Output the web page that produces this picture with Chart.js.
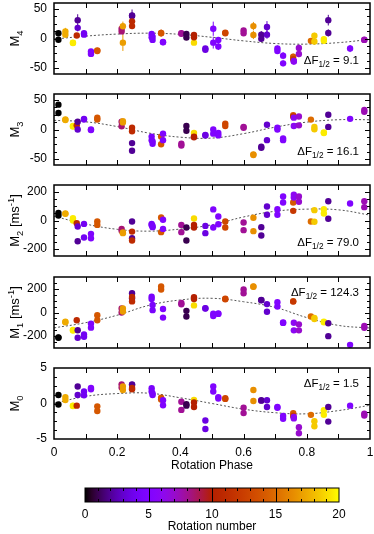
<!DOCTYPE html>
<html>
<head>
<meta charset="utf-8">
<script src="https://cdn.jsdelivr.net/npm/chart.js@4.4.1/dist/chart.umd.min.js"></script>
<style>
  html, body { margin: 0; padding: 0; background: #fff; }
  #wrap { position: relative; width: 374px; height: 534px; overflow: hidden; }
  #wrap canvas { position: absolute; left: 0; }
</style>
</head>
<body>
<div id="wrap"></div>
<script>
// Magnetic moments vs rotation phase, coloured by rotation number

const phase = [
  0.014, 0.014, 0.036, 0.036, 0.060, 0.060, 0.072, 0.075, 0.075, 0.095, 0.095, 0.117, 0.117, 0.137, 0.137,
  0.214, 0.214, 0.218, 0.218, 0.247, 0.247, 0.247, 0.247, 0.309, 0.309, 0.312, 0.312, 0.339, 0.339, 0.345, 0.345,
  0.403, 0.403, 0.419, 0.419, 0.443, 0.443, 0.443, 0.479, 0.479, 0.504, 0.504, 0.520, 0.520, 0.542, 0.542,
  0.600, 0.600, 0.631, 0.631, 0.656, 0.656, 0.674, 0.674, 0.707, 0.707, 0.725, 0.725, 0.757, 0.757, 0.759, 0.759,
  0.775, 0.775, 0.813, 0.824, 0.824, 0.854, 0.854, 0.868, 0.868, 0.937, 0.982, 0.982
];
const rotation = [
  0, 0, 17.5, 17.5, 19.5, 19.5, 11, 2, 3, 4, 4, 5, 5, 14, 14,
  8.5, 8.5, 17, 17, 2, 2, 11, 11, 4.5, 4.5, 4.5, 4.5, 14, 14, 5, 5,
  8, 8, 1, 1, 19, 10, 10, 3.5, 3.5, 5, 5, 5, 5, 13, 13,
  8, 8, 16.5, 16.5, 2, 2, 3, 3, 5, 5, 5, 5, 14, 12, 6, 6,
  7, 7, 15, 18.5, 18.5, 19.5, 19.5, 2, 2, 5, 7.5, 7.5
];
const m4 = [
  9, -2, 12, 6.5, -7, -7.5, 5, 31, 18, 9, 6.5, -22, -26, -20, -21,
  16.5, 12, 20.6, -7, 39, 38, 29, 21, 7.6, 2, -2.4, 3, 9.4, 9, -6, -6.5,
  9, 8, 7.6, 1.8, -7, 6, 2, -17, -19, 16.5, -7, -2.4, -13.5, 10, 9,
  13.5, 9, 21, 6, 6.5, -0.6, 19.4, 6.5, -17, -21, -29, -42, -30.6, -35, -39, -38,
  -16, -26, -4, 4.7, -5, -1, -4, 31, 9.4, -17, -2.4, -2
];
const m4Err = [
  4, 3, 6, 5, 3, 3, 3, 10, 6, 4, 4, 3, 3, 3, 3,
  5, 4, 8, 14, 10, 6, 5, 5, 5, 4, 4, 4, 6, 5, 4, 4,
  5, 4, 5, 4, 4, 5, 5, 4, 4, 12, 10, 5, 6, 4, 3,
  4, 4, 7, 7, 6, 5, 10, 7, 5, 4, 6, 5, 5, 5, 5, 4,
  6, 6, 4, 5, 5, 5, 5, 9, 6, 6, 4, 3
];
const m3 = [
  42, 28, 17, 16, 6, 5, 7, 13, 0, 18, 17, 0, -1, 20, 17,
  13, 5.5, 14, 12, -23, -36, 3, -3, -12, -18, -24, -20, -12, -25, -7, -18,
  -24, -27, 6, -2, -6, -12, -13, -9, -10, 0, -7, -6, -10, 10, 6,
  4.4, 3, -42, -43, -29, -31, 8, -18, 3, 0, -15, -18, 24, 22, 20, 6,
  22, 7, 16.7, 4.4, 0.5, -5, -6, 25, 4.4, 18, 33, 30
];
const m2 = [
  54, 35, 50, 47, 16, 0, -19, -146, -42, -24, -120, -94, -125, -7, -31,
  -59, -73, -85, -89, -7, -125, -78, -141, -24, -31, -47, -38, 21, -82, 5, -59,
  -31, -82, -49, -141, 14, -31, -49, -38, -89, 78, -49, 28, -26, -7, -49,
  -14, -68, 19, -75, -47, -106, 99, 40, 80, 40, 169, 127, 127, 68, 181, 162,
  169, 132, -7, 73, -9, 80, 49, 136, 12, 120, 136, 94
];
const m1 = [
  -214, -210, -78, -82, -148, -152, -66, -150, -214, -186, -205, -94, -128, -23, -66,
  34, 0, 34, 9, 163, 120, 131, 94, 134, 114, 63, 20, 220, 194, 29, -43,
  80, 69, 14, -34, 60, 129, 114, 34, 36, -11, -29, -8, -12, 116, 112,
  194, 163, 220, 218, 106, 104, 71, 6, 86, 51, -84, -88, 96, 92, -86, -151,
  -100, -151, -34, -45, -55, -78, -82, -91, -200, -274, -114, -129
];
const m0 = [
  1.2, -0.15, 0.9, 0.5, -0.3, -0.35, -0.3, 2.4, 1.2, 1.7, 1.15, 2.2, 2.0, -0.4, -1.05,
  2.7, 2.25, 2.4, 1.9, 2.7, 2.6, 2.2, 2.0, 2.15, 1.7, 1.2, 1.4, 0.8, 0.55, 0.45, -0.25,
  0.25, -0.9, -0.1, -0.3, 0.5, 0.15, -0.5, -2.4, -3.6, 2.4, 1.7, 0.9, 0.7, 0.75, 0.65,
  -0.6, -1.35, 1.9, 0.35, 0.45, 0.4, 0.45, -0.5, -0.5, -0.6, -1.75, -2.15, -1.35, -1.75, -1.9, -2.1,
  -3.35, -4.2, -1.6, -2.5, -3.2, -0.95, -1.6, -0.5, -2.55, -0.3, -1.45, -1.7
];

// dashed fits
const fitPhase = [0, 0.1, 0.2, 0.3, 0.4, 0.5, 0.6, 0.7, 0.8, 0.9, 1];
const m4Fit = [-1, 4, 7.5, 9, 7, 2, -4, -8.5, -9.5, -7, -1.5];
const m3Fit = [15.5, 13, 5, -6, -13, -14.5, -7, 4, 12.5, 16.5, 16.5];
const m2Fit = [30, -25, -62, -75, -60, -30, 25, 65, 80, 75, 38];
const m1Fit = [-130, -86, -23, 60, 106, 120, 91, 43, -43, -109, -131];
const m0Fit = [0, 1.0, 1.4, 1.45, 0.8, 0, -0.8, -1.3, -1.45, -1.0, -0.25];

const phaseTicks = [0, 0.1, 0.2, 0.3, 0.4, 0.5, 0.6, 0.7, 0.8, 0.9, 1];
const rotationTicks = [0, 5, 10, 15, 20];
const rotationMax = 20;

const FONT = '"Liberation Sans", Arial, Helvetica, sans-serif';
Chart.defaults.font.family = FONT;
Chart.defaults.color = '#000';

// gnuplot rgbformulae 7,5,15
function palette(t) {
  t = Math.max(0, Math.min(1, t));
  const r = Math.sqrt(t), g = t * t * t, b = Math.max(0, Math.sin(2 * Math.PI * t));
  return `rgb(${Math.round(r * 255)},${Math.round(g * 255)},${Math.round(b * 255)})`;
}

function drawRich(ctx, parts, x, y, size, align) {
  const fontFor = k => `${k ? size * 0.72 : size}px ${FONT}`;
  const widths = parts.map(([t, k]) => { ctx.font = fontFor(k); return ctx.measureText(t).width; });
  const total = widths.reduce((a, b) => a + b, 0);
  let cx = align === 'right' ? x - total : align === 'center' ? x - total / 2 : x;
  ctx.textAlign = 'left';
  ctx.textBaseline = 'alphabetic';
  parts.forEach(([t, k], i) => {
    ctx.font = fontFor(k);
    const dy = k === 'sub' ? size * 0.28 : k === 'sup' ? -size * 0.42 : 0;
    ctx.fillText(t, cx, y + dy);
    cx += widths[i];
  });
}

const panels = [
  {values: m4, err: m4Err, fit: m4Fit, min: -60, max: 60, major: 50, minor: 12.5, top: 3,
   title: [['M', ''], ['4', 'sub']], dF: '9.1', dFhigh: false},
  {values: m3, fit: m3Fit, min: -60, max: 60, major: 50, minor: 12.5, top: 94,
   title: [['M', ''], ['3', 'sub']], dF: '16.1', dFhigh: false},
  {values: m2, fit: m2Fit, min: -250, max: 250, major: 200, minor: 50, top: 185,
   title: [['M', ''], ['2', 'sub'], [' [ms', ''], ['-1', 'sup'], [']', '']], dF: '79.0', dFhigh: false},
  {values: m1, fit: m1Fit, min: -300, max: 300, major: 200, minor: 50, top: 277,
   title: [['M', ''], ['1', 'sub'], [' [ms', ''], ['-1', 'sup'], [']', '']], dF: '124.3', dFhigh: true},
  {values: m0, fit: m0Fit, min: -5, max: 5, major: 5, minor: 1.25, top: 368,
   title: [['M', ''], ['0', 'sub']], dF: '1.5', dFhigh: true}
];
const PANEL_H = 71;
const PAD = 8;

const errorBars = {
  id: 'errorBars',
  beforeDatasetsDraw(chart) {
    const err = chart.options.plugins.errorBars.err;
    if (!err) return;
    const {ctx, scales: {x, y}} = chart;
    const ds = chart.data.datasets[0];
    ctx.save();
    ctx.lineWidth = 1;
    ds.data.forEach((p, i) => {
      const px = x.getPixelForValue(p.x);
      ctx.strokeStyle = ds.backgroundColor[i];
      ctx.beginPath();
      ctx.moveTo(px, y.getPixelForValue(p.y - err[i]));
      ctx.lineTo(px, y.getPixelForValue(p.y + err[i]));
      ctx.stroke();
    });
    ctx.restore();
  }
};

const frame = {
  id: 'frame',
  afterDatasetsDraw(chart) {
    const o = chart.options.plugins.frame;
    const {ctx, chartArea: a, scales: {x, y}} = chart;
    ctx.save();
    ctx.strokeStyle = '#000';
    ctx.lineWidth = 1;
    ctx.beginPath();
    y.ticks.forEach(t => {
      if (t.value <= o.min || t.value >= o.max) return;
      const py = Math.round(y.getPixelForValue(t.value)) + 0.5;
      const len = Math.abs(t.value % o.major) < 1e-9 ? 5 : 3;
      ctx.moveTo(a.left, py); ctx.lineTo(a.left + len, py);
      ctx.moveTo(a.right, py); ctx.lineTo(a.right - len, py);
    });
    phaseTicks.forEach(v => {
      if (v <= 0 || v >= 1) return;
      const px = Math.round(x.getPixelForValue(v)) + 0.5;
      ctx.moveTo(px, a.top); ctx.lineTo(px, a.top + 5);
      ctx.moveTo(px, a.bottom); ctx.lineTo(px, a.bottom - 5);
    });
    ctx.stroke();
    ctx.lineWidth = 1.5;
    ctx.strokeRect(a.left, a.top, a.right - a.left, a.bottom - a.top);
    ctx.restore();
  },
  afterDraw(chart) {
    const o = chart.options.plugins.frame;
    const {ctx, chartArea: a} = chart;
    ctx.save();
    ctx.fillStyle = '#000';
    ctx.translate(19, (a.top + a.bottom) / 2);
    ctx.rotate(-Math.PI / 2);
    drawRich(ctx, o.title, 0, 0, 13, 'center');
    ctx.restore();
    ctx.save();
    ctx.fillStyle = '#000';
    drawRich(ctx, [['\u0394F', ''], ['1/2', 'sub'], [' = ' + o.dF, '']],
      a.right - 11, a.top + (o.dFhigh ? 19 : 61), 11.5, 'right');
    if (o.xTitle) {
      ctx.font = `12px ${FONT}`;
      ctx.textAlign = 'center';
      ctx.textBaseline = 'middle';
      ctx.fillText(o.xTitle, (a.left + a.right) / 2, a.bottom + 27);
    }
    ctx.restore();
  }
};

const wrap = document.getElementById('wrap');

function makeCanvas(top, height) {
  const c = document.createElement('canvas');
  c.width = 374; c.height = height;
  c.style.top = top + 'px';
  c.style.width = '374px'; c.style.height = height + 'px';
  wrap.appendChild(c);
  return c;
}

panels.forEach((p, idx) => {
  const last = idx === panels.length - 1;
  const xH = last ? 37 : 0;
  const canvas = makeCanvas(p.top - PAD, PAD + PANEL_H + (last ? xH : PAD));
  const pts = phase.map((ph, i) => ({x: ph, y: p.values[i]}));
  const fitPts = fitPhase.map((ph, i) => ({x: ph, y: p.fit[i]}));

  new Chart(canvas, {
    type: 'scatter',
    data: {
      datasets: [
        {data: pts, backgroundColor: rotation.map(r => palette(r / rotationMax)),
         pointRadius: 3.2, pointHoverRadius: 3.2, borderWidth: 0, order: 0},
        {type: 'line', data: fitPts, borderColor: '#555', borderWidth: 1, borderDash: [2, 2],
         pointRadius: 0, tension: 0.4, fill: false, order: 1}
      ]
    },
    options: {
      responsive: false, animation: false, events: [],
      layout: {padding: {top: PAD, bottom: last ? 0 : PAD, left: 0, right: 4}},
      scales: {
        x: {
          type: 'linear', min: 0, max: 1, display: last,
          grid: {display: false, drawTicks: false}, border: {display: false},
          afterBuildTicks: s => { s.ticks = phaseTicks.map(v => ({value: v})); },
          ticks: {
            autoSkip: false, maxRotation: 0, padding: 6, font: {size: 12},
            callback: v => Math.round(v * 10) % 2 === 0 ? (v === 0 || v === 1 ? String(v) : v.toFixed(1)) : ''
          },
          afterFit: s => { s.height = xH; s.paddingLeft = 0; s.paddingRight = 0; }
        },
        y: {
          min: p.min, max: p.max,
          grid: {display: false, drawTicks: false}, border: {display: false},
          ticks: {
            stepSize: p.minor, includeBounds: false, autoSkip: false, padding: 7, font: {size: 12},
            callback: v => Math.abs(v % p.major) < 1e-9 ? String(v) : ''
          },
          afterFit: s => { s.width = 54; s.paddingTop = 0; s.paddingBottom = 0; }
        }
      },
      plugins: {
        legend: {display: false}, tooltip: {enabled: false},
        errorBars: {err: p.err},
        frame: {min: p.min, max: p.max, major: p.major, title: p.title, dF: p.dF, dFhigh: p.dFhigh,
                xTitle: last ? 'Rotation Phase' : null}
      }
    },
    plugins: [errorBars, frame]
  });
});

// colour bar
const colorbar = {
  id: 'colorbar',
  beforeDatasetsDraw(chart) {
    const {ctx, chartArea: a, scales: {x}} = chart;
    const x0 = x.getPixelForValue(0), x1 = x.getPixelForValue(rotationMax);
    const grad = ctx.createLinearGradient(x0, 0, x1, 0);
    for (let i = 0; i <= 40; i++) grad.addColorStop(i / 40, palette(i / 40));
    ctx.save();
    ctx.fillStyle = grad;
    ctx.fillRect(x0, a.top, x1 - x0, a.bottom - a.top);
    ctx.strokeStyle = '#000';
    ctx.lineWidth = 1;
    ctx.beginPath();
    for (let v = 1; v < rotationMax; v++) {
      const px = Math.round(x.getPixelForValue(v)) + 0.5;
      if (rotationTicks.includes(v)) {
        ctx.moveTo(px, a.top); ctx.lineTo(px, a.bottom);
      } else {
        ctx.moveTo(px, a.top); ctx.lineTo(px, a.top + 3);
        ctx.moveTo(px, a.bottom); ctx.lineTo(px, a.bottom - 3);
      }
    }
    ctx.stroke();
    ctx.strokeRect(a.left, a.top, a.right - a.left, a.bottom - a.top);
    ctx.restore();
  }
};

new Chart(makeCanvas(480, 54), {
  type: 'scatter',
  data: {datasets: [{data: []}]},
  options: {
    responsive: false, animation: false, events: [],
    layout: {padding: {top: 8, bottom: 0, left: 85, right: 35}},
    scales: {
      x: {
        type: 'linear', min: 0, max: rotationMax,
        grid: {display: false, drawTicks: false}, border: {display: false},
        afterBuildTicks: s => { s.ticks = rotationTicks.map(v => ({value: v})); },
        ticks: {padding: 5, font: {size: 12}, maxRotation: 0},
        title: {display: true, text: 'Rotation number', font: {size: 12}, padding: {top: 0, bottom: 0}},
        afterFit: s => { s.height = 32; s.paddingLeft = 0; s.paddingRight = 0; }
      },
      y: {display: false, min: 0, max: 1}
    },
    plugins: {legend: {display: false}, tooltip: {enabled: false}}
  },
  plugins: [colorbar]
});
</script>
</body>
</html>
